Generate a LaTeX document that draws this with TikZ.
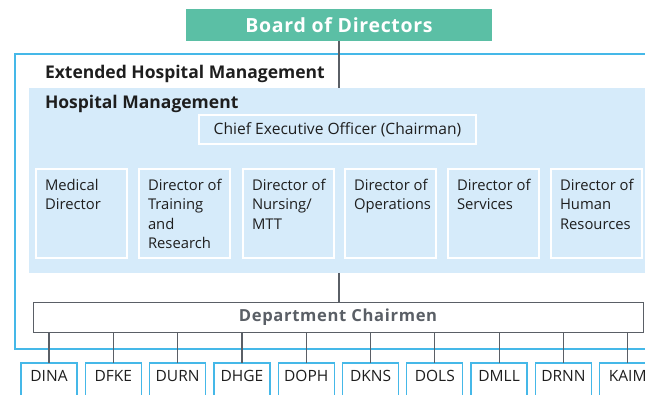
\documentclass[tikz,border=0pt]{standalone}
\usepackage{fontspec}
\setmainfont{Open Sans}
\definecolor{boardgreen}{HTML}{5BBFA5}
\definecolor{framblue}{HTML}{45B8E8}
\definecolor{mgmtblue}{HTML}{D6EBFA}
\definecolor{linegray}{HTML}{5A5F66}
\definecolor{textdark}{HTML}{1E1E1E}

\begin{document}
\begin{tikzpicture}[x=1pt,y=-1pt,
    every node/.style={inner sep=0pt,outer sep=0pt,text=textdark},
    boardbox/.style={fill=boardgreen,anchor=north west,minimum width=306,minimum height=32,
        font=\bfseries\fontsize{19.5}{22}\selectfont\addfontfeatures{LetterSpace=3.5},text=white},
    extbox/.style={draw=framblue,line width=2pt,anchor=north west,minimum width=700,minimum height=295},
    mgmtbox/.style={fill=mgmtblue,anchor=north west,minimum width=700,minimum height=185},
    title/.style={anchor=base west,font=\bfseries\fontsize{17.5}{20}\selectfont},
    ceobox/.style={draw=white,line width=2.5pt,fill=mgmtblue,anchor=north west,minimum width=277,minimum height=29,
        font=\fontsize{15.6}{18}\selectfont},
    dirbox/.style={draw=white,line width=2.5pt,fill=mgmtblue,anchor=north west,minimum width=91,minimum height=89,
        label={[anchor=north west,xshift=9pt,yshift=-10pt,align=left,
            font=\fontsize{14.8}{19.5}\selectfont]north west:#1}},
    deptbox/.style={draw=linegray,line width=1pt,fill=white,anchor=north west,minimum width=610,minimum height=30,
        font=\bfseries\fontsize{16.6}{18}\selectfont\addfontfeatures{LetterSpace=4},text=linegray},
    unitbox/.style={draw=framblue,line width=1.3pt,fill=white,anchor=north west,minimum width=56,
        text height=18pt,text depth=24pt,font=\fontsize{15.5}{18}\selectfont},
    conn/.style={draw=linegray,line width=1.2pt}]

    \clip (0,0) rectangle (645,395);

    % the three levels
    \node[boardbox] (board) at (186,9) {Board of Directors};
    \node[extbox] (ext) at (15,54) {};
    \node[title] (exttitle) at (45,79) {Extended Hospital Management};
    \node[mgmtbox] (hm) at (29,88) {};
    \node[title] (hmtitle) at (45,109) {Hospital Management};
    \node[ceobox] (ceo) at (199,115) {Chief Executive Officer (Chairman)};

    \node[dirbox={Medical\\Director}] (med) at (36,169) {};
    \node[dirbox={Director of\\Training\\and\\Research}] (train) at (139,169) {};
    \node[dirbox={Director of\\Nursing/\\MTT}] (nurs) at (243,169) {};
    \node[dirbox={Director of\\Operations}] (oper) at (345,169) {};
    \node[dirbox={Director of\\Services}] (serv) at (448,169) {};
    \node[dirbox={Director of\\Human\\Resources}] (hr) at (551,169) {};

    \node[deptbox] (dept) at (33,302) {Department Chairmen};

    \draw[conn] (board.south) -- (board.south |- hm.north);
    \draw[conn] (board.south |- hm.south) -- (board.south |- dept.north);

    % departments
    \foreach \name [count=\i from 0] in {DINA,DFKE,DURN,DHGE,DOPH,DKNS,DOLS,DMLL,DRNN,KAIM} {
        \node[unitbox] (u\i) at (21+64.3*\i,363) {\name};
        \draw[conn] (u\i.north |- dept.south) -- (u\i.north);
    }
\end{tikzpicture}
\end{document}
